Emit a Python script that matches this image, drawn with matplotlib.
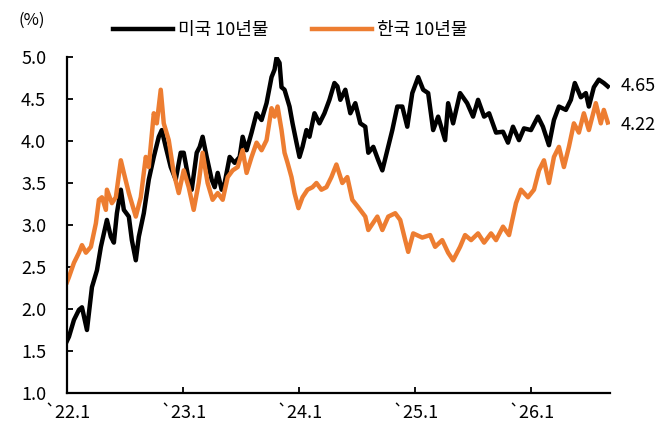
import matplotlib
matplotlib.use("Agg")
from matplotlib import pyplot as plt

plt.rcParams['font.family'] = ['Noto Sans CJK KR', 'DejaVu Sans']

# years since Jan 2022 / yield (%)
us_t = [0.000, 0.017, 0.060, 0.103, 0.129, 0.172, 0.215, 0.258, 0.292, 0.318,
        0.344, 0.378, 0.404, 0.430, 0.464, 0.490, 0.533, 0.559, 0.593, 0.619,
        0.662, 0.705, 0.748, 0.791, 0.817, 0.851, 0.894, 0.937, 0.980, 1.006,
        1.049, 1.075, 1.118, 1.144, 1.169, 1.204, 1.247, 1.273, 1.299, 1.333,
        1.359, 1.402, 1.445, 1.488, 1.514, 1.548, 1.591, 1.634, 1.677, 1.720,
        1.763, 1.789, 1.806, 1.832, 1.849, 1.875, 1.918, 1.944, 1.978, 2.004,
        2.030, 2.064, 2.090, 2.133, 2.176, 2.219, 2.262, 2.305, 2.331, 2.356,
        2.399, 2.442, 2.485, 2.528, 2.571, 2.597, 2.640, 2.683, 2.718, 2.761,
        2.804, 2.847, 2.890, 2.933, 2.976, 3.027, 3.070, 3.113, 3.156, 3.199,
        3.259, 3.285, 3.328, 3.388, 3.449, 3.500, 3.543, 3.595, 3.638, 3.698,
        3.758, 3.801, 3.844, 3.896, 3.939, 3.999, 4.059, 4.102, 4.154, 4.197,
        4.240, 4.300, 4.343, 4.377, 4.429, 4.472, 4.498, 4.541, 4.584, 4.627,
        4.661]
us_v = [1.62, 1.67, 1.87, 1.99, 2.02, 1.75, 2.26, 2.46, 2.74, 2.90,
        3.06, 2.86, 2.79, 3.14, 3.42, 3.18, 3.10, 2.82, 2.58, 2.86,
        3.14, 3.54, 3.81, 4.05, 4.13, 3.93, 3.69, 3.54, 3.86, 3.86,
        3.54, 3.42, 3.86, 3.93, 4.05, 3.81, 3.54, 3.45, 3.62, 3.42,
        3.50, 3.81, 3.74, 3.81, 4.05, 3.89, 4.10, 4.33, 4.25, 4.45,
        4.76, 4.85, 4.99, 4.93, 4.64, 4.61, 4.41, 4.21, 3.98, 3.81,
        3.93, 4.13, 4.05, 4.33, 4.21, 4.33, 4.49, 4.69, 4.65, 4.49,
        4.61, 4.33, 4.45, 4.21, 4.17, 3.86, 3.93, 3.77, 3.65, 3.89,
        4.13, 4.41, 4.41, 4.17, 4.57, 4.76, 4.61, 4.57, 4.13, 4.29,
        4.01, 4.45, 4.21, 4.57, 4.45, 4.29, 4.49, 4.29, 4.33, 4.10,
        4.11, 3.98, 4.17, 4.01, 4.15, 4.13, 4.29, 4.17, 3.95, 4.25,
        4.41, 4.37, 4.49, 4.69, 4.52, 4.57, 4.41, 4.64, 4.73, 4.69,
        4.65]

kr_t = [0.000, 0.017, 0.060, 0.103, 0.129, 0.163, 0.206, 0.249, 0.275, 0.301,
        0.335, 0.344, 0.387, 0.421, 0.464, 0.490, 0.533, 0.593, 0.636, 0.679,
        0.705, 0.748, 0.774, 0.808, 0.834, 0.877, 0.920, 0.963, 1.006, 1.049,
        1.092, 1.135, 1.169, 1.212, 1.255, 1.299, 1.342, 1.385, 1.428, 1.471,
        1.514, 1.548, 1.591, 1.634, 1.677, 1.720, 1.763, 1.789, 1.815, 1.849,
        1.875, 1.901, 1.935, 1.961, 1.995, 2.030, 2.073, 2.116, 2.150, 2.193,
        2.236, 2.279, 2.322, 2.373, 2.416, 2.459, 2.511, 2.571, 2.597, 2.675,
        2.718, 2.769, 2.829, 2.872, 2.915, 2.941, 2.984, 3.062, 3.130, 3.173,
        3.234, 3.285, 3.328, 3.388, 3.431, 3.483, 3.543, 3.595, 3.655, 3.698,
        3.758, 3.810, 3.870, 3.913, 3.973, 4.025, 4.068, 4.111, 4.154, 4.197,
        4.240, 4.283, 4.326, 4.369, 4.412, 4.455, 4.498, 4.558, 4.601, 4.627,
        4.661]
kr_v = [2.32, 2.38, 2.55, 2.67, 2.76, 2.67, 2.74, 3.02, 3.30, 3.33,
        3.18, 3.42, 3.26, 3.33, 3.77, 3.62, 3.38, 3.10, 3.33, 3.81,
        3.69, 4.33, 4.21, 4.61, 4.21, 4.01, 3.62, 3.38, 3.65, 3.45,
        3.18, 3.50, 3.86, 3.50, 3.30, 3.38, 3.30, 3.57, 3.65, 3.69,
        3.89, 3.62, 3.81, 3.98, 3.89, 4.01, 4.39, 4.29, 4.41, 4.13,
        3.86, 3.74, 3.57, 3.38, 3.20, 3.33, 3.42, 3.45, 3.50, 3.42,
        3.45, 3.57, 3.72, 3.50, 3.57, 3.30, 3.21, 3.10, 2.94, 3.10,
        2.94, 3.10, 3.14, 3.06, 2.82, 2.68, 2.90, 2.85, 2.88, 2.74,
        2.82, 2.67, 2.58, 2.74, 2.88, 2.82, 2.90, 2.79, 2.90, 2.82,
        2.98, 2.88, 3.26, 3.42, 3.33, 3.42, 3.65, 3.77, 3.50, 3.81,
        3.93, 3.69, 3.93, 4.21, 4.10, 4.33, 4.13, 4.45, 4.21, 4.37,
        4.22]

tick_years = [2022, 2023, 2024, 2025, 2026]
tick_labels = ["`22.1", "`23.1", "`24.1", "`25.1", "`26.1"]
y_ticks = [1.0, 1.5, 2.0, 2.5, 3.0, 3.5, 4.0, 4.5, 5.0]

us_color = "#000000"
kr_color = "#ED7D31"

fig = plt.figure(figsize=(6.72, 4.34), dpi=100)
ax = fig.add_axes([0.0997, 0.0945, 0.808, 0.7742])

ax.plot([2022 + t for t in us_t], us_v, color=us_color, lw=3.2,
        label="미국 10년물", solid_joinstyle="round")
ax.plot([2022 + t for t in kr_t], kr_v, color=kr_color, lw=3.2,
        label="한국 10년물", solid_joinstyle="round")

ax.set_xlim(2022, 2026.68)
ax.set_ylim(1.0, 5.0)
ax.set_xticks(tick_years)
ax.set_xticklabels(tick_labels)
ax.set_yticks(y_ticks)
ax.set_yticklabels([f"{v:.1f}" for v in y_ticks])

for s in ["top", "right"]:
    ax.spines[s].set_visible(False)
for s in ["left", "bottom"]:
    ax.spines[s].set_linewidth(1.6)
ax.tick_params(axis="both", direction="in", length=4, width=1.3,
               labelsize=13, colors="black")
ax.tick_params(axis="y", pad=15)
ax.tick_params(axis="x", pad=8)

# end labels
ax.annotate(f"{us_v[-1]:.2f}", (2022 + us_t[-1], us_v[-1]), xytext=(9, 0),
            textcoords="offset points", va="center", fontsize=13)
ax.annotate(f"{kr_v[-1]:.2f}", (2022 + kr_t[-1], kr_v[-1]), xytext=(9, -2),
            textcoords="offset points", va="center", fontsize=13)

fig.text(0.027, 0.953, "(%)", fontsize=12, va="center")
fig.legend(loc="center", bbox_to_anchor=(0.432, 0.93), ncol=2,
           frameon=False, fontsize=13, handlelength=3.3, handletextpad=0.3,
           columnspacing=2.4)

plt.savefig("out.png", dpi=100)
plt.close(fig)
